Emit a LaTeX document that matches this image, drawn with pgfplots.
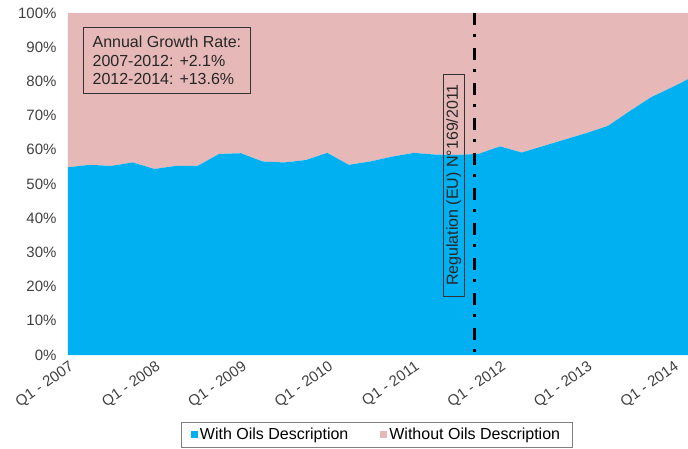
\documentclass[border=0pt]{standalone}
\usepackage{fontspec}
\setmainfont{Liberation Sans}
\usepackage{pgfplots}
\usepackage{pgfplotstable}
\pgfplotsset{compat=1.18}
\definecolor{withc}{RGB}{0,176,240}
\definecolor{withoutc}{RGB}{230,185,184}
\definecolor{tickc}{RGB}{64,64,64}

\pgfplotstableread{
x with without
0 54.9 45.1
1 55.6 44.4
2 55.3 44.7
3 56.3 43.7
4 54.4 45.6
5 55.3 44.7
6 55.3 44.7
7 58.8 41.2
8 59.0 41.0
9 56.6 43.4
10 56.3 43.7
11 57.0 43.0
12 59.1 40.9
13 55.6 44.4
14 56.6 43.4
15 58.0 42.0
16 59.1 40.9
17 58.6 41.4
18 58.5 41.5
19 58.8 41.2
20 61.0 39.0
21 59.2 40.8
22 61.1 38.9
23 63.0 37.0
24 64.9 35.1
25 67.0 33.0
26 71.3 28.7
27 75.4 24.6
28 78.4 21.6
29 81.6 18.4
}\datatable

\begin{document}
\begin{tikzpicture}[x=1pt,y=1pt]
\useasboundingbox (-68,-93) rectangle (620,355);
\begin{axis}[
  at={(0,0)}, anchor=south west,
  scale only axis, width=620pt, height=342pt,
  xmin=0, xmax=28.7, ymin=0, ymax=100,
  stack plots=y, area legend,
  axis line style={draw=none},
  major tick length=0pt,
  /pgf/number format/assume math mode=true,
  ytick={0,10,...,100},
  yticklabel={\pgfmathprintnumber{\tick}\%},
  yticklabel style={xshift=-8pt},
  xtick={0,4,...,28},
  xticklabels={Q1 - 2007,Q1 - 2008,Q1 - 2009,Q1 - 2010,Q1 - 2011,Q1 - 2012,Q1 - 2013,Q1 - 2014},
  xticklabel style={rotate=35, anchor=north east, xshift=1pt, yshift=-1pt},
  tick label style={font=\fontsize{15}{17}\selectfont, text=tickc},
  legend style={at={(0.4976,0)}, anchor=north, yshift=-67pt, legend columns=2,
    draw=gray, font=\fontsize{16}{19}\selectfont, inner xsep=10pt, inner ysep=4pt,
    /tikz/every even column/.append style={column sep=30pt}},
  legend image code/.code={\fill[#1] (0pt,-3.5pt) rectangle (7pt,3.5pt);},
]
\addplot[fill=withc, draw=none] table[x=x,y=with]{\datatable} \closedcycle;
\addlegendentry{With Oils Description}
\addplot[fill=withoutc, draw=none] table[x=x,y=without]{\datatable} \closedcycle;
\addlegendentry{Without Oils Description}
\coordinate (regtop) at (axis cs:18.8,100);
\coordinate (regbot) at (axis cs:18.8,0);
\coordinate (regbox) at (axis cs:17.85,49.7);
\coordinate (annbox) at (axis cs:0.71,95.8);
\end{axis}

\draw[black, line width=3pt, dash pattern=on 12pt off 9pt on 3pt off 11pt]
  (regtop) -- (regbot);

\node[draw=black!80, line width=0.6pt, rotate=90, inner xsep=10pt, inner ysep=3pt,
  font=\fontsize{16}{18}\selectfont, text=black!85]
  at (regbox) {Regulation (EU) N°169/2011};

\node[draw=black!80, line width=0.6pt, anchor=north west, align=left,
  inner xsep=9pt, inner ysep=8.5pt, font=\fontsize{16}{18.3}\selectfont, text=black!85]
  at (annbox) {Annual Growth Rate:\\2007-2012: +2.1\%\\2012-2014: +13.6\%};
\end{tikzpicture}
\end{document}
